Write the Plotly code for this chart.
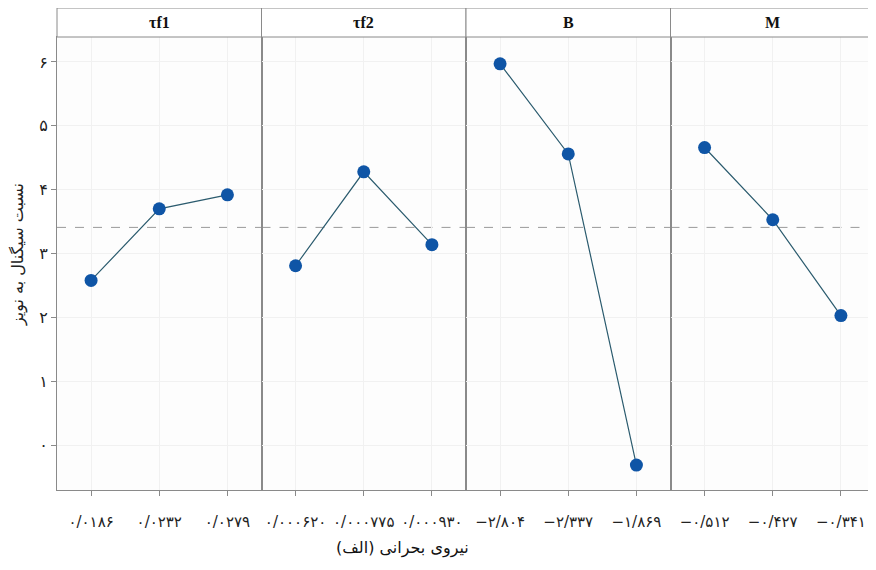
import plotly.graph_objects as go
from plotly.subplots import make_subplots

factors = ["τf1", "τf2", "B", "M"]
tick_labels = [
    ["۰/۰۱۸۶", "۰/۰۲۳۲", "۰/۰۲۷۹"],
    ["۰/۰۰۰۶۲۰", "۰/۰۰۰۷۷۵", "۰/۰۰۰۹۳۰"],
    ["−۲/۸۰۴", "−۲/۳۳۷", "−۱/۸۶۹"],
    ["−۰/۵۱۲", "−۰/۴۲۷", "−۰/۳۴۱"],
]
sn_tf1 = [2.58, 3.70, 3.92]
sn_tf2 = [2.81, 4.28, 3.14]
sn_B = [5.97, 4.56, -0.31]
sn_M = [4.66, 3.53, 2.03]
series = [sn_tf1, sn_tf2, sn_B, sn_M]
overall_mean = 3.41
y_ticks = [0, 1, 2, 3, 4, 5, 6]
y_tick_text = ["۰", "۱", "۲", "۳", "۴", "۵", "۶"]
y_title = "نسبت سیگنال به نویز"
x_title = "\u202Bنیروی بحرانی (الف)\u202C"

# page body has an 8px margin; lay the figure out in page coordinates minus 8
OFF = 8
W, H = 876 - OFF, 570 - 2 * OFF
L, R, T, B = 57 - OFF, 1, 8 - OFF, 72
plot_w = W - L - R
plot_h = H - T - B
strip_px = 29
y_dom_top = (plot_h - strip_px) / plot_h
bottom_page = H - B + OFF  # page y of x axis

fig = make_subplots(rows=1, cols=4, horizontal_spacing=0, shared_yaxes=True)

line_col = "#2b5b6e"
marker_col = "#0f55a6"
frame_col = "#8a8a8a"

for i, vals in enumerate(series):
    fig.add_trace(
        go.Scatter(
            x=[0, 1, 2], y=vals, mode="lines+markers",
            line=dict(color=line_col, width=1.2),
            marker=dict(color=marker_col, size=13),
            showlegend=False, hoverinfo="skip",
        ),
        row=1, col=i + 1,
    )
    fig.update_xaxes(
        range=[-0.5, 2.5], tickmode="array", tickvals=[0, 1, 2],
        ticktext=tick_labels[i], ticks="outside", ticklen=5, tickcolor=frame_col,
        showline=True, linecolor=frame_col, linewidth=1, mirror=True,
        showgrid=True, gridcolor="#f1f1f1", zeroline=False,
        ticklabelstandoff=13, automargin=False,
        tickfont=dict(family="DejaVu Sans, Noto Sans", size=15, color="#222"),
        row=1, col=i + 1,
    )
    fig.update_yaxes(
        range=[-0.70, 6.39], domain=[0, y_dom_top],
        tickmode="array", tickvals=y_ticks, ticktext=y_tick_text,
        ticks="outside" if i == 0 else "", ticklen=5, tickcolor=frame_col,
        showticklabels=(i == 0), automargin=False,
        showline=True, linecolor=frame_col, linewidth=1, mirror=True,
        showgrid=True, gridcolor="#f1f1f1", zeroline=False,
        tickfont=dict(family="DejaVu Sans, Noto Sans", size=16, color="#222"),
        row=1, col=i + 1,
    )
    xref = "x" if i == 0 else f"x{i+1}"
    yref = "y" if i == 0 else f"y{i+1}"
    fig.add_shape(type="line", xref=f"{xref} domain", yref=yref,
                  x0=0, x1=1, y0=overall_mean, y1=overall_mean,
                  line=dict(color="#9a9a9a", width=1, dash="dash"), layer="below")
    fig.add_shape(type="rect", xref=f"{xref} domain", yref="paper",
                  x0=0, x1=1, y0=y_dom_top, y1=1,
                  line=dict(color=frame_col, width=1), fillcolor="white")
    fig.add_annotation(xref=f"{xref} domain", yref="paper", x=0.5,
                       y=(y_dom_top + 1) / 2, text=f"<b>{factors[i]}</b>",
                       showarrow=False, yanchor="middle",
                       font=dict(family="Liberation Serif", size=16, color="#111"))

fig.add_annotation(xref="paper", yref="paper", x=(402 - OFF - L) / plot_w,
                   y=-(548 - bottom_page) / plot_h,
                   text=x_title, showarrow=False, yanchor="middle", xanchor="center",
                   font=dict(family="DejaVu Sans, Noto Sans", size=16, color="#111"))
fig.add_annotation(xref="paper", yref="paper", x=-(57 - 18) / plot_w,
                   y=(bottom_page - 255) / plot_h, text=y_title, textangle=-90,
                   showarrow=False, xanchor="center", yanchor="middle",
                   font=dict(family="DejaVu Sans, Noto Sans", size=16, color="#222"))

fig.update_layout(
    width=W, height=H,
    margin=dict(l=L, r=R, t=T, b=B, autoexpand=False),
    paper_bgcolor="white", plot_bgcolor="#fdfdfd",
)
fig.write_html("out.html")
